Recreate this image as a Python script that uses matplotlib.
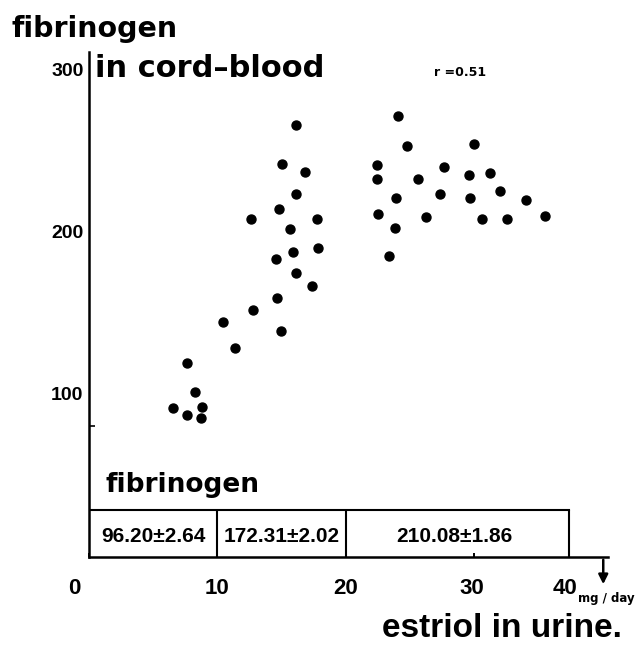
import numpy as np
import matplotlib
matplotlib.use('Agg')
import matplotlib.pyplot as plt
from matplotlib.transforms import ScaledTranslation

# estriol in urine (mg/day) vs fibrinogen in cord blood
estriol = [6.55, 7.66, 8.71, 8.83, 8.26, 7.61,
           10.42, 11.38, 12.76, 14.96, 14.61, 17.40, 16.16, 14.60, 15.92,
           17.87, 15.67, 12.65, 17.75, 14.79, 16.16, 16.81, 15.04, 16.13,
           24.11, 24.76, 29.98, 22.42, 22.47, 25.62, 27.65, 29.59, 31.72,
           23.90, 27.36, 29.71, 32.74, 35.44, 22.53, 26.24, 30.81, 33.47,
           37.47, 23.83, 23.41]
fibrinogen = [91.2, 87.0, 85.0, 92.2, 101.2, 118.9,
              144.3, 128.2, 151.5, 139.1, 159.0, 166.9, 174.7, 183.2, 187.8,
              190.3, 201.9, 208.2, 207.8, 214.0, 223.3, 236.9, 241.8, 265.9,
              271.6, 252.9, 254.5, 241.5, 232.7, 232.7, 240.3, 234.8, 236.6,
              220.8, 223.3, 220.8, 225.5, 219.9, 211.3, 209.3, 208.0, 208.0,
              209.7, 202.3, 185.2]

group_edges = [0, 10, 20, 40]
group_means = ['96.20±2.64', '172.31±2.02', '210.08±1.86']
x_ticks = [0, 10, 20, 30, 40]
y_ticks = [100, 200, 300]

NARROW = ['Liberation Sans', 'DejaVu Sans']
BOLD = ['DejaVu Sans']

# the hand drawn axis is squeezed after 30
K = 0.74
def fwd(x):
    x = np.asarray(x, float)
    return np.where(x <= 30, x, 30 + (x - 30) * K)
def inv(u):
    u = np.asarray(u, float)
    return np.where(u <= 30, u, 30 + (u - 30) / K)

fig = plt.figure(figsize=(6.36, 6.48), dpi=100)
ax = fig.add_axes([89/636, 1-557/648, 519/636, 505/648])
ax.set_xscale('function', functions=(fwd, inv))
ax.set_xlim(0, 44.1)
ax.set_ylim(-0.6, 311)

ax.scatter(estriol, fibrinogen, s=42, color='black', zorder=3)

for s in ['top', 'right']:
    ax.spines[s].set_visible(False)
for s in ['left', 'bottom']:
    ax.spines[s].set_linewidth(1.8)

ax.set_xticks(x_ticks)
ax.set_xticklabels([str(t) for t in x_ticks], fontfamily=NARROW,
                   fontweight='bold', fontsize=16)
ax.tick_params(axis='x', direction='in', length=3, width=1.4, pad=15)
for lab, dx in zip(ax.get_xticklabels(), [-15, 0, 0, -2, -4]):
    lab.set_transform(lab.get_transform() + ScaledTranslation(dx/100, 0, fig.dpi_scale_trans))

ax.set_yticks(y_ticks)
ax.set_yticklabels([str(t) for t in y_ticks], fontfamily=NARROW,
                   fontweight='bold', fontsize=14)
ax.tick_params(axis='y', length=0, pad=4)
ax.set_yticks([80], minor=True)
ax.tick_params(axis='y', which='minor', direction='in', length=4, width=1.2)

# table of group means along the bottom
top = 28.4
ax.plot([0, 40], [top, top], color='black', lw=1.5)
ax.vlines(group_edges[1:], -0.6, top, color='black', lw=1.5)
for lo, hi, txt in zip(group_edges[:-1], group_edges[1:], group_means):
    cx = (lo + hi) / 2 if hi <= 20 else 28.45
    ax.text(cx, 12.3, txt, ha='center', va='center', fontfamily=NARROW,
            fontweight='bold', fontsize=15)
ax.text(1.25, 39.5, 'fibrinogen', ha='left', va='baseline', fontfamily=BOLD,
        fontweight='bold', fontsize=19)

ax.annotate('', xy=(43.6, -19.1), xytext=(43.6, -0.6),
            arrowprops=dict(arrowstyle='-|>', lw=1.8, color='black', mutation_scale=14),
            annotation_clip=False)

fig.text(12/636, 1-37/648, 'fibrinogen', fontfamily=BOLD, fontweight='bold',
         fontsize=20.5, va='baseline')
fig.text(95/636, 1-77/648, 'in cord–blood', fontfamily=BOLD, fontweight='bold',
         fontsize=22, va='baseline')
fig.text(460/636, 1-73/648, 'r =0.51', fontfamily=BOLD, fontweight='bold',
         fontsize=9, ha='center', va='center')
fig.text(382/636, 1-637/648, 'estriol in urine.', fontfamily=NARROW, fontweight='bold',
         fontsize=24, va='baseline')
fig.text(578/636, 1-602/648, 'mg / day', fontfamily=BOLD, fontweight='bold',
         fontsize=8.5, va='baseline')

fig.savefig('out.png', dpi=100)
